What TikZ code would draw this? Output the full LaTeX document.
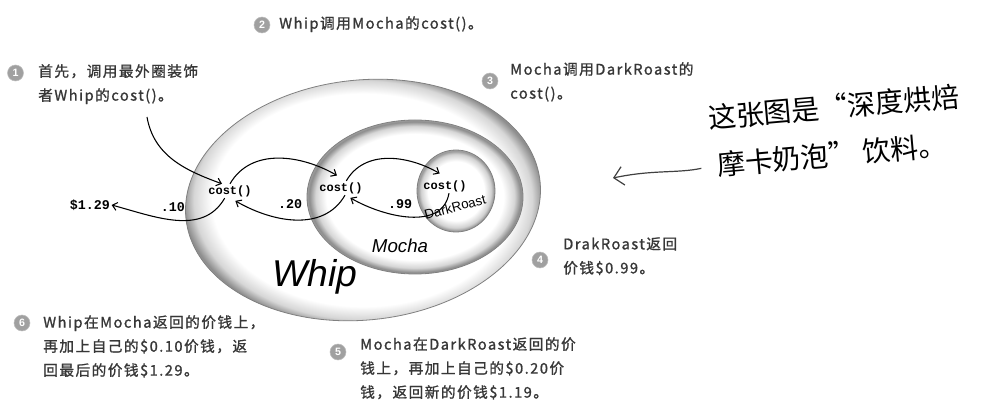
\documentclass[tikz,border=0pt]{standalone}
\usepackage{fontspec}
\usepackage{xcolor}
\usetikzlibrary{shapes.geometric, arrows.meta, positioning, calc}
\newfontfamily\cjk[LetterSpace=10, FakeBold=1.2]{Noto Sans CJK SC}
\newfontfamily\handfont{Noto Sans CJK SC}
\newfontfamily\codefont{Liberation Mono}
\newfontfamily\labelfont{Liberation Sans}
\definecolor{notegray}{RGB}{55,55,55}
\definecolor{numgray}{RGB}{160,160,160}
\pgfdeclareradialshading{bigcup}{\pgfpoint{0bp}{0bp}}{color(0bp)=(white); color(20.5bp)=(white); color(23bp)=(black!16); color(24.5bp)=(black!45); color(25bp)=(black!38); color(50bp)=(black!38)}
\pgfdeclareradialshading{smallcup}{\pgfpoint{0bp}{0bp}}{color(0bp)=(white); color(18bp)=(white); color(22.5bp)=(black!18); color(24.5bp)=(black!42); color(25bp)=(black!35); color(50bp)=(black!35)}

\begin{document}
\begin{tikzpicture}[
  x=0.75pt, y=0.75pt,
  cup/.style={ellipse, inner sep=0pt, shading=bigcup, draw=black!50, line width=0.6pt},
  code/.style={font=\codefont\bfseries\fontsize{9}{10}\selectfont, inner sep=1pt},
  price/.style={font=\codefont\bfseries\fontsize{10}{11}\selectfont, inner sep=1pt},
  stepnum/.style={circle, fill=numgray, draw=numgray!70, text=white, inner sep=0pt,
                  minimum size=12pt, font=\labelfont\bfseries\fontsize{8}{8}\selectfont},
  note/.style={anchor=north west, align=left, inner sep=0pt, text=notegray,
               font=\cjk\fontsize{11}{18}\selectfont},
  hand/.style={anchor=west, rotate=5, inner sep=0pt, font=\handfont\fontsize{21}{24}\selectfont},
  arr/.style={-{Straight Barb[length=3.5pt, width=6pt]}, line width=0.8pt},
]
\useasboundingbox (0,0) rectangle (986,411);

% the cups, outer to inner
\node[cup, minimum width=267pt, minimum height=180pt, rotate=6] (whip) at (363,211) {};
\node[cup, minimum width=162pt, minimum height=115.5pt] (mocha) at (415,214) {};
\node[cup, shading=smallcup, minimum width=58.5pt, minimum height=61.5pt] (roast) at (456,220) {};

\node[font=\labelfont\itshape\fontsize{28}{30}\selectfont] (whiplbl) at (315,134) {Whip};
\node[font=\labelfont\itshape\fontsize{14}{16}\selectfont] (mochalbl) at (400,165) {Mocha};
\node[font=\labelfont\fontsize{10}{11}\selectfont, rotate=15] (roastlbl) at (455,204) {DarkRoast};

% cost() calls and prices
\node[code] (wcost) at (230,220) {cost()};
\node[code] (mcost) at (341,223) {cost()};
\node[code] (dcost) at (445,225) {cost()};
\node[price] (total) at (90,206) {\$1.29};
\node[price] (p10) at (173,204) {.10};
\node[price] (p20) at (290,207) {.20};
\node[price] (p99) at (400,207) {.99};

% numbered notes
\node[stepnum] (n1) at (15.5,338) {1};
\node[stepnum] (n2) at (262,386) {2};
\node[stepnum] (n3) at (490,330) {3};
\node[stepnum] (n4) at (540,151) {4};
\node[stepnum] (n5) at (338,59) {5};
\node[stepnum] (n6) at (22,88) {6};

\node[note] (note1) at (38,347) {首先，调用最外圈装饰\\者Whip的cost()。};
\node[note] (note2) at (279,395) {Whip调用Mocha的cost()。};
\node[note] (note3) at (510,349) {Mocha调用DarkRoast的\\cost()。};
\node[note] (note4) at (563,174) {DrakRoast返回\\价钱\$0.99。};
\node[note] (note5) at (360,74) {Mocha在DarkRoast返回的价\\钱上，再加上自己的\$0.20价\\钱，返回新的价钱\$1.19。};
\node[note] (note6) at (43,96) {Whip在Mocha返回的价钱上，\\再加上自己的\$0.10价钱，返\\回最后的价钱\$1.29。};

% handwritten remark
\node[hand] (hand1) at (708,293) {这张图是“深度烘焙};
\node[hand] (hand2) at (717,246) {摩卡奶泡” 饮料。};
\coordinate (s1) at (147,294);
\coordinate (tip) at (613,233);

\draw[arr] (s1) to[out=-80, in=160] ([xshift=-6pt]wcost.north);
\draw[arr] (wcost.north) to[out=60, in=150] ([xshift=-3pt, yshift=4pt]mcost.north);
\draw[arr] ([xshift=4pt]mcost.north) to[out=60, in=150] ([xshift=-4pt, yshift=4pt]dcost.north);
\draw[arr] ([xshift=3pt]dcost.south) to[out=-100, in=-30] ([xshift=7pt, yshift=-2pt]mcost.south);
\draw[arr] ([xshift=3pt]mcost.south) to[out=-120, in=-30] ([xshift=4pt, yshift=-2pt]wcost.south);
\draw[arr] ([xshift=-4pt]wcost.south) to[out=-120, in=-15] (total.east);
\draw[-{Straight Barb[length=7pt, width=14pt]}, line width=0.9pt, black!75, shorten <=12pt]
  (hand2.west) to[out=192, in=12] (tip);

\end{tikzpicture}
\end{document}
